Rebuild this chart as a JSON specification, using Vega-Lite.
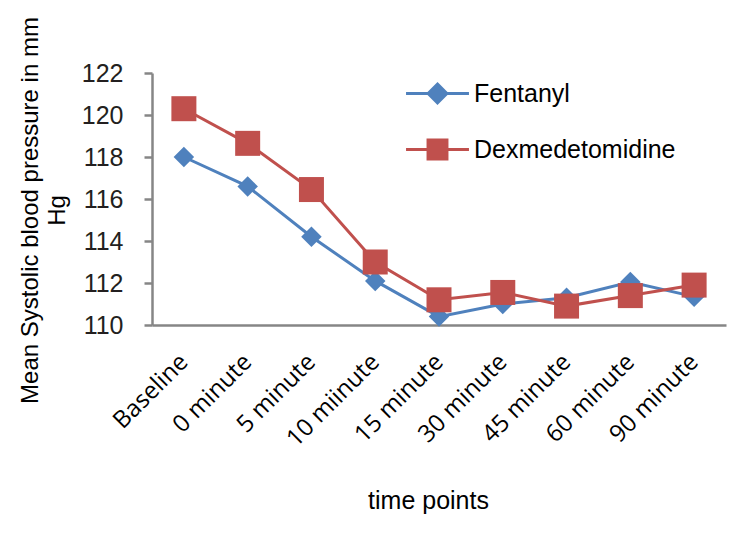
{
  "$schema": "https://vega.github.io/schema/vega-lite/v6.json",
  "width": 574,
  "height": 252,
  "autosize": {"type": "none"},
  "padding": {"left": 152, "top": 73, "right": 14, "bottom": 213},
  "background": "white",
  "config": {"view": {"stroke": null}, "font": "Liberation Sans"},
  "data": {
    "values": [
      {"time": "Baseline", "series": "Fentanyl", "value": 118.0},
      {"time": "0 minute", "series": "Fentanyl", "value": 116.6},
      {"time": "5 minute", "series": "Fentanyl", "value": 114.2},
      {"time": "10 miinute", "series": "Fentanyl", "value": 112.1},
      {"time": "15 minute", "series": "Fentanyl", "value": 110.4},
      {"time": "30 minute", "series": "Fentanyl", "value": 111.0},
      {"time": "45 minute", "series": "Fentanyl", "value": 111.3},
      {"time": "60 minute", "series": "Fentanyl", "value": 112.05},
      {"time": "90 minute", "series": "Fentanyl", "value": 111.35},
      {"time": "Baseline", "series": "Dexmedetomidine", "value": 120.3},
      {"time": "0 minute", "series": "Dexmedetomidine", "value": 118.65},
      {"time": "5 minute", "series": "Dexmedetomidine", "value": 116.45},
      {"time": "10 miinute", "series": "Dexmedetomidine", "value": 113.0},
      {"time": "15 minute", "series": "Dexmedetomidine", "value": 111.2},
      {"time": "30 minute", "series": "Dexmedetomidine", "value": 111.55},
      {"time": "45 minute", "series": "Dexmedetomidine", "value": 110.9},
      {"time": "60 minute", "series": "Dexmedetomidine", "value": 111.4},
      {"time": "90 minute", "series": "Dexmedetomidine", "value": 111.9}
    ]
  },
  "encoding": {
    "x": {
      "field": "time",
      "type": "ordinal",
      "sort": ["Baseline", "0 minute", "5 minute", "10 miinute", "15 minute", "30 minute", "45 minute", "60 minute", "90 minute"],
      "scale": {"padding": 0.5},
      "axis": {
        "domainColor": "#868686",
        "domainWidth": 2.5,
        "ticks": false,
        "grid": false,
        "labelAngle": -45,
        "labelAlign": "right",
        "labelBaseline": "middle",
        "labelFont": "Open Sans",
        "labelFontSize": 24,
        "labelColor": "#000000",
        "labelPadding": 33,
        "labelLimit": 300,
        "title": "time points",
        "titleFont": "Liberation Sans",
        "titleFontSize": 25,
        "titleFontWeight": "normal",
        "titleColor": "#000000",
        "titleBaseline": "middle",
        "titleX": 276,
        "titleY": 175
      }
    },
    "y": {
      "field": "value",
      "type": "quantitative",
      "scale": {"domain": [110, 122], "nice": false, "zero": false},
      "axis": {
        "values": [110, 112, 114, 116, 118, 120, 122],
        "grid": false,
        "domainColor": "#868686",
        "domainWidth": 2.5,
        "tickColor": "#868686",
        "tickWidth": 2.5,
        "tickSize": 8,
        "labelFontSize": 25,
        "labelPadding": 21,
        "labelColor": "#231f20",
        "title": ["Mean Systolic blood pressure in mm", "Hg"],
        "titleFontSize": 24,
        "titleFontWeight": "normal",
        "titleColor": "#000000",
        "titleAngle": 270,
        "titleAlign": "center",
        "titleBaseline": "top",
        "titleLineHeight": 27,
        "titleX": -134,
        "titleY": 137
      }
    },
    "color": {
      "field": "series",
      "type": "nominal",
      "scale": {"domain": ["Fentanyl", "Dexmedetomidine"], "range": ["#4F81BD", "#C0504D"]},
      "legend": {
        "orient": "none",
        "legendX": 273,
        "legendY": 8,
        "title": null,
        "symbolSize": 484,
        "symbolStrokeWidth": 3,
        "labelFontSize": 25,
        "labelColor": "#000000",
        "labelOffset": 24,
        "labelLimit": 400,
        "rowPadding": 25,
        "encoding": {
          "symbols": {
            "shape": {"value": {"expr": "datum.value === 'Fentanyl' ? 'M-2.86,0L2.86,0M0,-0.85L0.85,0L0,0.85L-0.85,0Z' : 'M-2.86,0L2.86,0M-0.86,-0.86L0.86,-0.86L0.86,0.86L-0.86,0.86Z'"}},
            "fill": {"value": {"expr": "datum.value === 'Fentanyl' ? '#4F81BD' : '#C0504D'"}},
            "stroke": {"value": {"expr": "datum.value === 'Fentanyl' ? '#4F81BD' : '#C0504D'"}},
            "strokeWidth": {"value": 3},
            "opacity": {"value": 1}
          }
        }
      }
    }
  },
  "layer": [
    {"mark": {"type": "line", "strokeWidth": 3}},
    {
      "transform": [{"filter": "datum.series === 'Fentanyl'"}],
      "mark": {"type": "point", "filled": true, "opacity": 1, "shape": "diamond", "size": 420}
    },
    {
      "transform": [{"filter": "datum.series === 'Dexmedetomidine'"}],
      "mark": {"type": "point", "filled": true, "opacity": 1, "shape": "square", "size": 625}
    }
  ]
}
